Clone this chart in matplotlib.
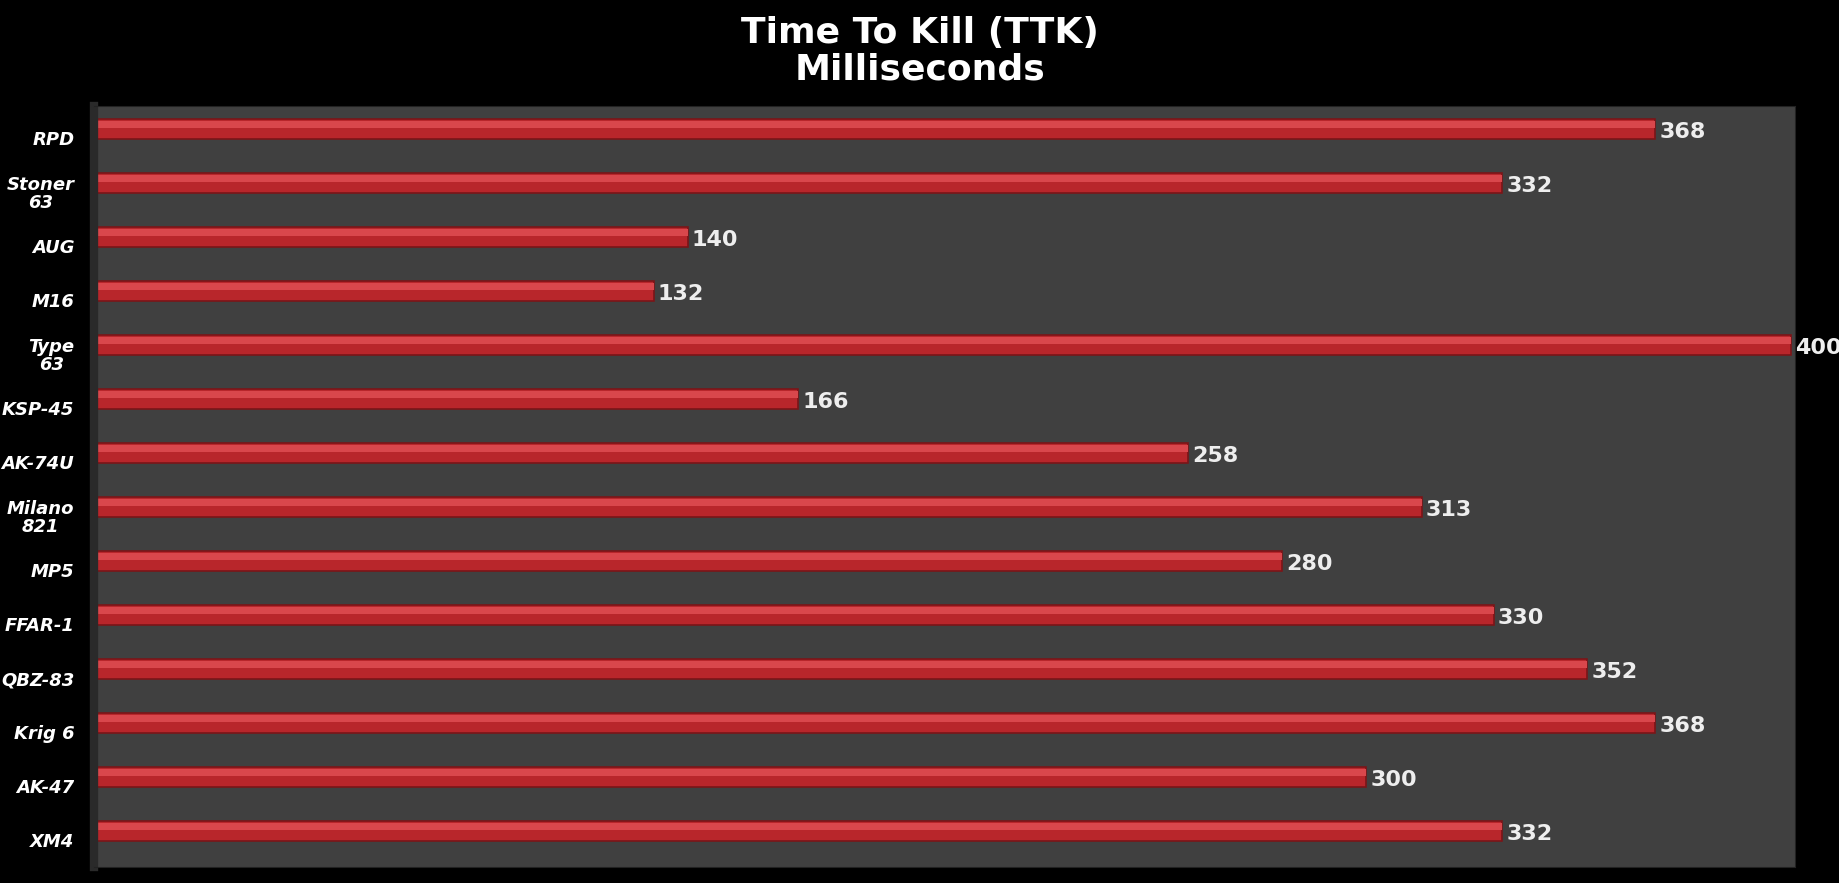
import matplotlib
matplotlib.use("Agg")
import matplotlib.pyplot as plt
import numpy as np

categories = ["RPD", "Stoner\n63", "AUG", "M16", "Type\n63", "KSP-45", "AK-74U",
              "Milano\n821", "MP5", "FFAR-1", "QBZ-83", "Krig 6", "AK-47", "XM4"]
values = [368, 332, 140, 132, 400, 166, 258, 313, 280, 330, 352, 368, 300, 332]

fig = plt.figure(figsize=(18.39, 8.83), dpi=100, facecolor="black")
ax = fig.add_axes([0.051, 0.018, 0.925, 0.862])
ax.set_facecolor("#404040")
y = np.arange(len(categories))
yb = y - 0.17
h = 0.36
ax.barh(yb, values, height=h, color="#b8262b", edgecolor="#7a1518", linewidth=1.2)
ax.barh(yb - h * 0.22, values, height=h * 0.35, color="#d9474c", linewidth=0)
for yi, v in zip(yb, values):
    ax.text(v + 1, yi + 0.05, str(v), va="center", ha="left", color="#eeeeee",
            fontsize=16, fontweight="bold")
ax.set_yticks(y)
ax.set_yticklabels(categories, color="white", fontsize=13, fontweight="bold",
                   fontstyle="italic", linespacing=1.0)
for t in ax.get_yticklabels():
    t.set_multialignment("center")
ax.set_ylim(len(categories) - 0.5, -0.6)
ax.set_xlim(0, 401)
ax.set_xticks([])
ax.tick_params(axis="y", length=0, pad=14)
for s in ax.spines.values():
    s.set_color("#222222")
ax.spines["left"].set_linewidth(6)
ax.spines["left"].set_color("#2a2a2a")
fig.suptitle("Time To Kill (TTK)\nMilliseconds", color="white", fontsize=26,
             fontweight="bold", y=0.982, linespacing=1.1)
fig.savefig("out.png", facecolor="black")
